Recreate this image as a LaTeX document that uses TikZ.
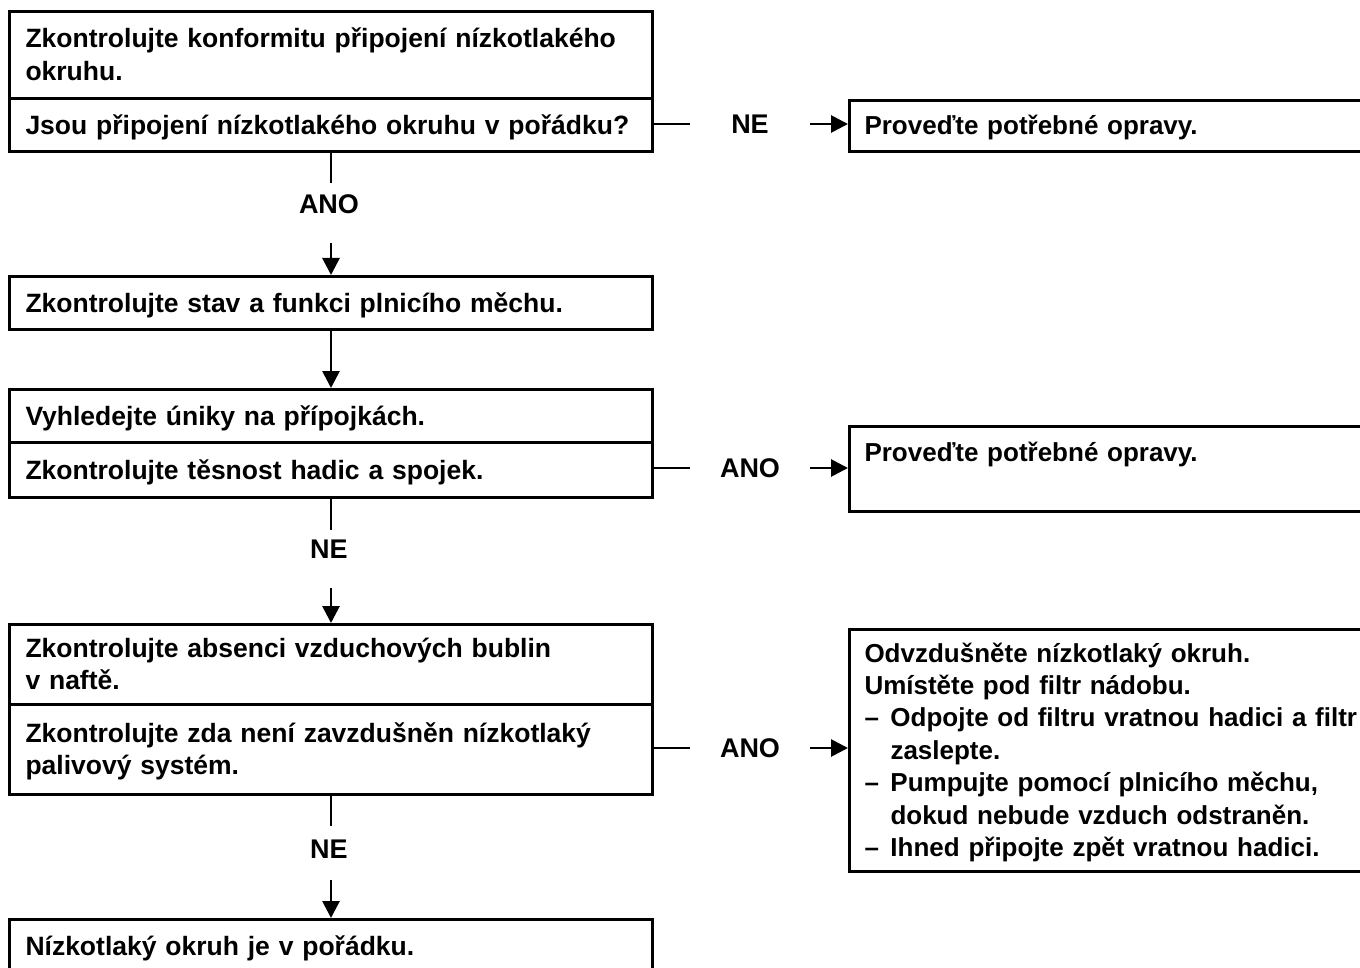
\documentclass[tikz,border=0pt]{standalone}
\usepackage{fontspec}
\setmainfont{Liberation Sans}
\usetikzlibrary{arrows.meta}

% struts that give every text block the same top and bottom
\newcommand{\firstln}{\rule{0pt}{0.98em}}
\newcommand{\lastln}{\rule[-0.3em]{0pt}{0.3em}}

\begin{document}
\begin{tikzpicture}[x=1pt,y=-1pt,
  ltxt/.style={font=\bfseries\fontsize{26.5}{32.2}\selectfont},
  rtxt/.style={font=\bfseries\fontsize{26}{32.4}\selectfont},
  leftbox/.style={ltxt, draw, line width=3pt, rectangle, anchor=north west,
    align=left, inner xsep=16pt, inner ysep=0pt, text width=611pt,
    minimum width=643pt},
  rightbox/.style={rtxt, draw, line width=3pt, rectangle, anchor=north west,
    align=left, inner xsep=15pt, inner ysep=0pt, text width=540pt,
    minimum width=570pt},
  lbl/.style={font=\bfseries\fontsize{27}{32}\selectfont, inner sep=0pt},
  hlbl/.style={lbl, minimum width=120pt},
  conn/.style={line width=2.8pt},
  arr/.style={line width=2.8pt, -{Triangle[length=17pt,width=17pt]}},
]
\useasboundingbox (0,0) rectangle (1360,968);
\clip (0,0) rectangle (1360,968);

% left column of checks
\node[leftbox, minimum height=87pt] (b1a) at (8,10)
  {\firstln Zkontrolujte konformitu připojení nízkotlakého\\okruhu.\lastln};
\node[leftbox, minimum height=53pt] (b1b) at (8,97)
  {\firstln\mbox{Jsou připojení nízkotlakého okruhu v pořádku?}\lastln};
\node[leftbox, minimum height=53pt] (b2) at (8,275)
  {\firstln Zkontrolujte stav a funkci plnicího měchu.\lastln};
\node[leftbox, minimum height=53pt] (b3a) at (8,388)
  {\firstln Vyhledejte úniky na přípojkách.\lastln};
\node[leftbox, minimum height=55pt] (b3b) at (8,441)
  {\firstln Zkontrolujte těsnost hadic a spojek.\lastln};
\node[leftbox, minimum height=80pt] (b4a) at (8,623)
  {\firstln Zkontrolujte absenci vzduchových bublin\\v naftě.\lastln};
\node[leftbox, minimum height=90pt] (b4b) at (8,703)
  {\firstln Zkontrolujte zda není zavzdušněn nízkotlaký\\palivový systém.\lastln};
\node[leftbox, minimum height=54pt] (b5) at (8,918)
  {\firstln Nízkotlaký okruh je v pořádku.\lastln};

% right column of remedies
\node[rightbox, minimum height=51pt] (r1) at (848,99)
  {\firstln Proveďte potřebné opravy.\lastln};
\node[rightbox, minimum height=85pt] (r2) at (848,425)
  {\firstln Proveďte potřebné opravy.\\\mbox{}\lastln};
\node[rightbox, minimum height=242pt] (r3) at (848,628)
  {\firstln Odvzdušněte nízkotlaký okruh.\\
   Umístěte pod filtr nádobu.\\
   \makebox[26pt][l]{–}\mbox{Odpojte od filtru vratnou hadici a filtr}\\
   \hspace*{26pt}zaslepte.\\
   \makebox[26pt][l]{–}Pumpujte pomocí plnicího měchu,\\
   \hspace*{26pt}dokud nebude vzduch odstraněn.\\
   \makebox[26pt][l]{–}Ihned připojte zpět vratnou hadici.\lastln};

% branch labels
\node[hlbl] (ne1) at (750,124) {NE};
\node[hlbl] (ano2) at (750,468) {ANO};
\node[hlbl] (ano3) at (750,748) {ANO};
\node[lbl] (ano1) at (329,204) {ANO};
\node[lbl] (ne2) at (329,549) {NE};
\node[lbl] (ne3) at (329,849) {NE};

% free ends of the vertical connectors
\coordinate (s1) at ([yshift=-30pt]b1b.south);
\coordinate (t1) at ([yshift=32pt]b2.north);
\coordinate (s3) at ([yshift=-31pt]b3b.south);
\coordinate (t3) at ([yshift=35pt]b4a.north);
\coordinate (s4) at ([yshift=-30pt]b4b.south);
\coordinate (t4) at ([yshift=38pt]b5.north);

% horizontal branches
\draw[conn] (b1b.east |- ne1) -- (ne1.west);
\draw[arr] (ne1.east) -- (ne1.east -| r1.west);
\draw[conn] (b3b.east |- ano2) -- (ano2.west);
\draw[arr] (ano2.east) -- (ano2.east -| r2.west);
\draw[conn] (b4b.east |- ano3) -- (ano3.west);
\draw[arr] (ano3.east) -- (ano3.east -| r3.west);

% vertical flow
\draw[conn] (b1b.south) -- (s1);
\draw[arr] (t1) -- (b2.north);
\draw[arr] (b2.south) -- (b3a.north);
\draw[conn] (b3b.south) -- (s3);
\draw[arr] (t3) -- (b4a.north);
\draw[conn] (b4b.south) -- (s4);
\draw[arr] (t4) -- (b5.north);
\end{tikzpicture}
\end{document}
